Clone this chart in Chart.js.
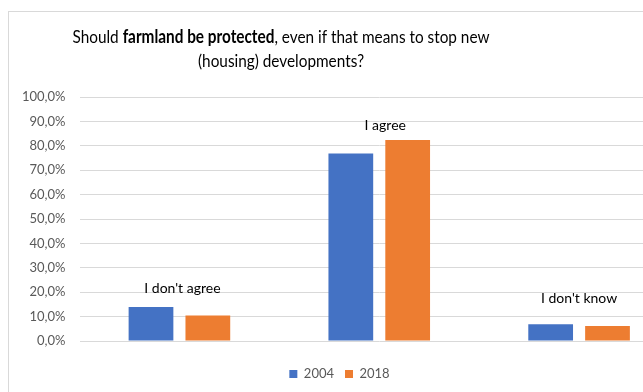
<!DOCTYPE html>
<html>
<head>
<meta charset="utf-8">
<title>Farmland protection survey</title>
<script src="https://cdn.jsdelivr.net/npm/chart.js@4.4.1/dist/chart.umd.min.js"></script>
<style>
    html, body { margin: 0; padding: 0; background: #fff; }
    #wrap { width: 643px; height: 392px; overflow: hidden; position: relative; }
    canvas { display: block; }
</style>
</head>
<body>
<div id="wrap">
    <canvas id="survey-chart" width="712" height="392"></canvas>
</div>
<script>
'use strict';

const categories = ["I don't agree", 'I agree', "I don't know"];
const years = ['2004', '2018'];
const values2004 = [13.9, 76.8, 6.9];
const values2018 = [10.4, 82.4, 6.1];
const yTicks = [0, 10, 20, 30, 40, 50, 60, 70, 80, 90, 100];

const titleLines = [
    [['Should ', false], ['farmland be protected', true], [', even if that means to stop new', false]],
    [['(housing) developments?', false]]
];

const FONT = 'Lato, "Open Sans", sans-serif';

/** @description Percent with a decimal comma, e.g. 10,0% */
function percentLabel(v) {
    return v.toFixed(1).replace('.', ',') + '%';
}

// light frame round the chart, only top and left edges show
const framePlugin = {
    id: 'frame',
    beforeDraw(chart) {
        const ctx = chart.ctx;
        ctx.save();
        ctx.fillStyle = '#fff';
        ctx.fillRect(0, 0, chart.width, chart.height);
        ctx.strokeStyle = '#d9d9d9';
        ctx.lineWidth = 1;
        ctx.strokeRect(8.5, 11.5, chart.width + 20, chart.height + 20);
        ctx.restore();
    }
};

// two line title with a bold run in the middle
const titlePlugin = {
    id: 'richTitle',
    afterDraw(chart, args, opts) {
        const ctx = chart.ctx;
        ctx.save();
        ctx.fillStyle = '#000';
        ctx.textBaseline = 'alphabetic';
        const fontFor = bold => (bold ? 'bold ' : '') + opts.size + 'px ' + FONT;
        const widthOf = line => line.reduce((w, [t, b]) => {
            ctx.font = fontFor(b);
            return w + ctx.measureText(t).width;
        }, 0);
        // squeeze the text a little so the first line keeps its width
        const sx = Math.min(1, opts.width / widthOf(titleLines[0]));
        titleLines.forEach((line, i) => {
            const w = widthOf(line) * sx;
            let x = opts.x - w / 2;
            const y = opts.y + i * opts.lineHeight;
            for (const [t, b] of line) {
                ctx.font = fontFor(b);
                ctx.save();
                ctx.translate(x, y);
                ctx.scale(sx, 1);
                ctx.fillText(t, 0, 0);
                ctx.restore();
                x += ctx.measureText(t).width * sx;
            }
        });
        ctx.restore();
    }
};

// category names written above each group of bars
const groupLabelPlugin = {
    id: 'groupLabels',
    afterDatasetsDraw(chart, args, opts) {
        const ctx = chart.ctx;
        const xs = chart.scales.x;
        const ys = chart.scales.y;
        ctx.save();
        ctx.font = '14px ' + FONT;
        ctx.fillStyle = '#000';
        ctx.textAlign = 'center';
        ctx.textBaseline = 'alphabetic';
        categories.forEach((c, i) => {
            ctx.fillText(c, xs.getPixelForValue(i) + opts.shift[i], ys.getPixelForValue(opts.levels[i]));
        });
        ctx.restore();
    }
};

const ctx = document.getElementById('survey-chart').getContext('2d');

new Chart(ctx, {
    type: 'bar',
    data: {
        labels: categories,
        datasets: [{
            label: years[0],
            data: values2004,
            backgroundColor: '#4472c4'
        }, {
            label: years[1],
            data: values2018,
            backgroundColor: '#ed7d31'
        }]
    },
    options: {
        responsive: false,
        animation: false,
        events: [],
        layout: {
            padding: { top: 97, right: 33, bottom: 1.5, left: 0 }
        },
        datasets: {
            bar: {
                categoryPercentage: 0.569,
                barPercentage: 0.787
            }
        },
        scales: {
            x: {
                grid: { display: false },
                border: { display: false },
                ticks: { display: false },
                afterFit: s => { s.height = 15.5; }
            },
            y: {
                min: 0,
                max: 100,
                afterBuildTicks: s => { s.ticks = yTicks.map(v => ({ value: v })); },
                afterFit: s => { s.width = 79.5; },
                grid: { color: '#d9d9d9', lineWidth: 1, drawTicks: false },
                border: { display: false },
                ticks: {
                    padding: 14,
                    color: '#595959',
                    font: { family: FONT, size: 13 },
                    callback: v => percentLabel(v)
                }
            }
        },
        plugins: {
            legend: {
                position: 'bottom',
                labels: {
                    boxWidth: 8,
                    boxHeight: 8,
                    padding: 11,
                    color: '#595959',
                    font: { family: FONT, size: 13 }
                }
            },
            tooltip: { enabled: false },
            richTitle: { x: 281, y: 43, lineHeight: 24, size: 18, width: 417 },
            groupLabels: { levels: [19.8, 86.5, 15.4], shift: [3, 6, 0] }
        }
    },
    plugins: [framePlugin, titlePlugin, groupLabelPlugin]
});
</script>
</body>
</html>
